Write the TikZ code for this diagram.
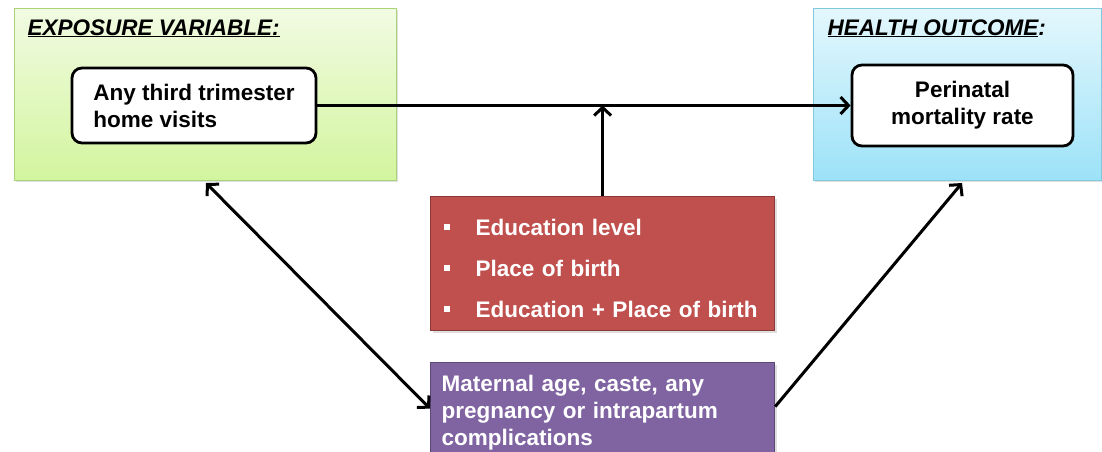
\documentclass[tikz,border=0pt]{standalone}
\usepackage{fontspec}
\setmainfont{Liberation Sans}
\usetikzlibrary{arrows.meta,positioning,shadows,calc}
\definecolor{expotop}{HTML}{F1FBE2}
\definecolor{expobot}{HTML}{D3F59E}
\definecolor{expoline}{HTML}{A9D27A}
\definecolor{outtop}{HTML}{E4F7FD}
\definecolor{outbot}{HTML}{9CE2F8}
\definecolor{outline}{HTML}{82C9DF}
\definecolor{modfill}{HTML}{C0504D}
\definecolor{modline}{HTML}{8C3836}
\definecolor{confill}{HTML}{8064A2}
\definecolor{conline}{HTML}{5C4776}
\newcommand{\boxfont}{\fontsize{22.5}{27}\selectfont\bfseries}
\tikzset{
  panel/.style args = {#1/#2/#3}{
            rectangle, draw=#3, line width=0.8pt,
            top color=#1, bottom color=#2,
            anchor=north west, minimum height=172pt,
            drop shadow={opacity=0.25, shadow xshift=2pt, shadow yshift=-2pt}},
  varbox/.style = {draw, fill=white, line width=2.8pt, rounded corners=10pt,
            font=\boxfont, align=#1},
  colbox/.style args = {#1/#2}{
            rectangle, draw=#2, fill=#1, line width=1.2pt, anchor=north west,
            text=white, font=\boxfont, minimum width=344pt,
            drop shadow={opacity=0.25, shadow xshift=2pt, shadow yshift=-2pt}},
  conn/.style = {line width=3pt, -{Straight Barb[length=8pt, width=17pt]}},
  twoway/.style = {line width=3pt, {Straight Barb[length=8pt, width=17pt]}-{Straight Barb[length=8pt, width=17pt]}}
}

\begin{document}
\begin{tikzpicture}[x=1pt, y=-1pt]
  \useasboundingbox (0,0) rectangle (1102,451);
  \def\sq{\makebox[32pt][l]{\raisebox{6pt}{\rule{6pt}{6pt}}}}

  % exposure side
  \node[panel=expotop/expobot/expoline, minimum width=382pt] (expopanel) at (14,8) {};
  \node[anchor=base west, font=\boxfont\itshape] (expohead) at (24,35)
    {\underline{EXPOSURE VARIABLE:}};
  \node[varbox=left, minimum width=244pt, minimum height=75pt] (expo) at (194,105.5)
    {Any third trimester\\home visits};

  % outcome side
  \node[panel=outtop/outbot/outline, minimum width=288pt] (outpanel) at (813,8) {};
  \node[anchor=base west, font=\boxfont\itshape] (outhead) at (824,35)
    {\underline{HEALTH OUTCOME}:};
  \node[varbox=center, minimum width=221pt, minimum height=81pt] (outcome) at (962.5,105.5)
    {Perinatal\\mortality rate};

  % effect modifiers
  \node[colbox=modfill/modline, minimum height=134pt, text width=318pt,
        inner xsep=13pt, inner ysep=12pt, align=left] (modifiers) at (430,196)
    {\rule{0pt}{27pt}\sq Education level\\[14pt]
     \sq Place of birth\\[14pt]
     \sq Education + Place of birth};

  % confounders
  \node[colbox=confill/conline, minimum height=100pt, text width=322pt,
        inner xsep=11pt, inner ysep=9pt, align=left] (confounders) at (430,362)
    {Maternal age, caste, any\\pregnancy or intrapartum\\complications};

  \coordinate (expofoot) at (206,183);
  \coordinate (outfoot) at (962,183);

  \draw[conn] (expo.east) -- (outcome.west);
  \draw[conn] (modifiers.north) -- (modifiers.north |- expo.east);
  \draw[twoway] (expofoot) -- ([yshift=4pt]confounders.west);
  \draw[conn] ([yshift=6pt]confounders.east) -- (outfoot);
\end{tikzpicture}
\end{document}
